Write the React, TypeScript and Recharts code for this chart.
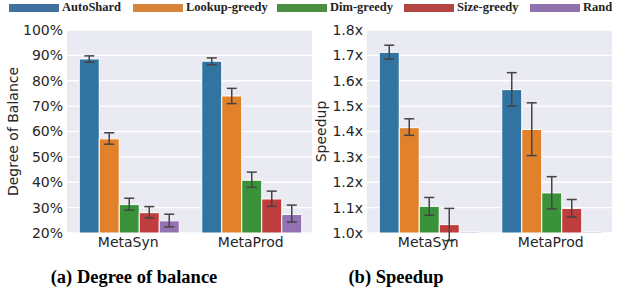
import React from 'react';
import { BarChart, Bar, XAxis, YAxis, CartesianGrid, ErrorBar } from 'recharts';

const categories = ['MetaSyn', 'MetaProd'];
const seriesNames = ['AutoShard', 'Lookup-greedy', 'Dim-greedy', 'Size-greedy', 'Rand'];
const barColors = ['#3274a1', '#e1812c', '#3a923a', '#c03d3e', '#9372b2'];
const legendColors = ['#41729f', '#d7843d', '#4a8e43', '#b24442', '#9272ae'];

// Degree of balance (%), one value per series, lower / upper ends of the error bars
const balanceMetaSyn = [88.6, 57.1, 31.2, 28.0, 24.8];
const balanceMetaSynLow = [87.3, 55.0, 29.0, 26.0, 22.4];
const balanceMetaSynHigh = [89.8, 59.5, 33.7, 30.4, 27.4];
const balanceMetaProd = [87.7, 74.0, 40.8, 33.4, 27.3];
const balanceMetaProdLow = [86.3, 71.0, 38.0, 30.5, 24.3];
const balanceMetaProdHigh = [89.0, 77.0, 44.0, 36.5, 31.0];
const balanceTicks = [20, 30, 40, 50, 60, 70, 80, 90, 100];

// Speedup (x)
const speedupMetaSyn = [1.712, 1.415, 1.105, 1.033, 1.004];
const speedupMetaSynLow = [1.685, 1.385, 1.07, 0.97, 1.004];
const speedupMetaSynHigh = [1.74, 1.45, 1.14, 1.097, 1.004];
const speedupMetaProd = [1.565, 1.408, 1.158, 1.097, 1.004];
const speedupMetaProdLow = [1.5, 1.305, 1.095, 1.063, 1.004];
const speedupMetaProdHigh = [1.632, 1.513, 1.222, 1.132, 1.004];
const speedupTicks = [1.0, 1.1, 1.2, 1.3, 1.4, 1.5, 1.6, 1.7, 1.8];

const buildRows = (means: number[][], lows: number[][], highs: number[][]) =>
  categories.map((name, c) => {
    const row: any = { name };
    seriesNames.forEach((s, i) => {
      row[s] = means[c][i];
      const lo = means[c][i] - lows[c][i];
      const hi = highs[c][i] - means[c][i];
      row[s + '_err'] = lo === 0 && hi === 0 ? undefined : [lo, hi];
    });
    return row;
  });

const balanceData = buildRows(
  [balanceMetaSyn, balanceMetaProd],
  [balanceMetaSynLow, balanceMetaProdLow],
  [balanceMetaSynHigh, balanceMetaProdHigh]
);
const speedupData = buildRows(
  [speedupMetaSyn, speedupMetaProd],
  [speedupMetaSynLow, speedupMetaProdLow],
  [speedupMetaSynHigh, speedupMetaProdHigh]
);

const tickStyle = { fontFamily: 'DejaVu Sans', fontSize: 14, fill: '#262626' };

type PanelProps = {
  data: any[];
  ticks: number[];
  domain: [number, number];
  fmt: (v: number) => string;
  label: string;
  labelOffset: number;
  width: number;
};

const Panel: React.FC<PanelProps> = ({ data, ticks, domain, fmt, label, labelOffset, width }) => (
  <BarChart
    width={width}
    height={260}
    data={data}
    margin={{ top: 30, right: 6, left: 0, bottom: 0 }}
    barCategoryGap="10%"
    barGap={0}
  >
    <CartesianGrid fill="#eaeaf2" stroke="#ffffff" strokeWidth={1.3} vertical={false} />
    <XAxis
      dataKey="name"
      axisLine={false}
      tickLine={false}
      tickSize={2}
      tickMargin={2}
      height={27}
      tick={tickStyle}
    />
    <YAxis
      type="number"
      domain={domain}
      ticks={ticks}
      allowDataOverflow
      axisLine={false}
      tickLine={false}
      tickSize={2}
      tickMargin={2}
      width={67}
      tick={tickStyle}
      tickFormatter={fmt}
      label={{
        value: label,
        angle: -90,
        position: 'insideLeft',
        offset: labelOffset,
        style: { ...tickStyle, textAnchor: 'middle' },
      }}
    />
    {seriesNames.map((s, i) => (
      <Bar key={s} dataKey={s} fill={barColors[i]} stroke="#ffffff" strokeWidth={1} isAnimationActive={false}>
        <ErrorBar dataKey={s + '_err'} width={5} stroke="#444444" strokeWidth={1.5} direction="y" />
      </Bar>
    ))}
  </BarChart>
);

// left edge of each legend swatch
const legendLeft = [9, 133, 277, 404, 530];

const Legend: React.FC = () => (
  <>
    {seriesNames.map((s, i) => (
      <div
        key={s}
        style={{
          position: 'absolute',
          left: legendLeft[i],
          top: 0,
          height: 15,
          display: 'flex',
          alignItems: 'center',
          whiteSpace: 'nowrap',
          fontFamily: 'Liberation Serif',
          fontWeight: 700,
          fontSize: 12.5,
          color: '#222',
        }}
      >
        <div style={{ width: 50, height: 8, background: legendColors[i], marginRight: 3 }} />
        <span>{s}</span>
      </div>
    ))}
  </>
);

const captionStyle: React.CSSProperties = {
  position: 'absolute',
  top: 267,
  fontFamily: 'Liberation Serif',
  fontWeight: 700,
  fontSize: 18.5,
  color: '#000',
  transform: 'translateX(-50%)',
  whiteSpace: 'nowrap',
};

export default function App() {
  return (
    <div style={{ position: 'absolute', left: 0, top: 0, width: 618, height: 295, background: '#fff', overflow: 'hidden' }}>
      <div style={{ position: 'absolute', left: 0, top: 0 }}>
        <Panel
          data={balanceData}
          ticks={balanceTicks}
          domain={[20, 100]}
          fmt={(v) => `${v}%`}
          label="Degree of Balance"
          labelOffset={13}
          width={318}
        />
      </div>
      <div style={{ position: 'absolute', left: 300, top: 0 }}>
        <Panel
          data={speedupData}
          ticks={speedupTicks}
          domain={[1.0, 1.8]}
          fmt={(v) => `${v.toFixed(1)}x`}
          label="Speedup"
          labelOffset={21}
          width={318}
        />
      </div>
      <Legend />
      <div style={{ ...captionStyle, left: 134 }}>(a) Degree of balance</div>
      <div style={{ ...captionStyle, left: 396 }}>(b) Speedup</div>
    </div>
  );
}
